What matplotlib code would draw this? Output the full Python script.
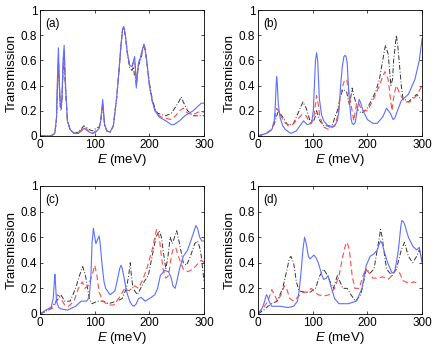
import numpy as np
import matplotlib.pyplot as plt

plt.rcParams['font.family'] = ['Liberation Sans', 'DejaVu Sans']
plt.rcParams['mathtext.fontset'] = 'custom'
plt.rcParams['mathtext.it'] = 'Liberation Sans:italic'
plt.rcParams['mathtext.rm'] = 'Liberation Sans'

# panel (a)
a_blue_x = [0, 20, 27, 30, 32, 33.5, 35, 37, 38.5, 40, 42, 44, 46, 50, 55, 62, 70, 76, 80, 84, 90, 96, 102, 108, 111, 113, 114.6, 116, 118, 122, 128, 134, 140, 144, 148, 151, 153, 156, 160, 164, 168, 171, 173, 175, 176, 178, 180, 184, 188, 190, 192, 195, 200, 205, 210, 218, 230, 240, 245, 255, 265, 280, 295, 300]
a_blue_y = [0, 0, 0.02, 0.15, 0.5, 0.70, 0.45, 0.25, 0.23, 0.3, 0.6, 0.72, 0.45, 0.12, 0.05, 0.02, 0.02, 0.04, 0.06, 0.05, 0.03, 0.02, 0.03, 0.06, 0.12, 0.22, 0.29, 0.2, 0.09, 0.04, 0.03, 0.08, 0.3, 0.5, 0.72, 0.85, 0.87, 0.8, 0.65, 0.56, 0.55, 0.6, 0.63, 0.5, 0.38, 0.48, 0.58, 0.63, 0.7, 0.73, 0.7, 0.6, 0.4, 0.28, 0.2, 0.15, 0.12, 0.09, 0.09, 0.12, 0.16, 0.2, 0.26, 0.26]
a_red_x = [0, 20, 27, 30, 32, 33.5, 35, 37, 38.5, 40, 42, 44, 46, 50, 55, 62, 70, 76, 80, 84, 90, 96, 102, 108, 111, 113, 114.6, 116, 118, 122, 128, 134, 140, 144, 148, 151, 153, 156, 160, 164, 168, 171, 173, 175, 176, 178, 180, 184, 188, 190, 192, 195, 200, 205, 210, 215, 222, 230, 240, 248, 255, 262, 270, 280, 290, 300]
a_red_y = [0, 0, 0.02, 0.14, 0.45, 0.60, 0.42, 0.24, 0.22, 0.3, 0.55, 0.68, 0.42, 0.12, 0.05, 0.02, 0.03, 0.05, 0.07, 0.06, 0.03, 0.02, 0.04, 0.06, 0.12, 0.2, 0.26, 0.18, 0.09, 0.04, 0.03, 0.08, 0.3, 0.5, 0.72, 0.85, 0.86, 0.8, 0.65, 0.56, 0.55, 0.58, 0.6, 0.5, 0.4, 0.48, 0.57, 0.62, 0.7, 0.71, 0.69, 0.6, 0.4, 0.28, 0.21, 0.17, 0.15, 0.14, 0.13, 0.16, 0.2, 0.22, 0.18, 0.17, 0.19, 0.19]
a_black_x = [0, 20, 27, 30, 32, 33.5, 35, 37, 38.5, 40, 42, 44, 46, 50, 55, 62, 70, 76, 80, 84, 90, 96, 102, 108, 111, 113, 114.6, 116, 118, 122, 128, 134, 140, 144, 148, 151, 153, 156, 160, 164, 168, 171, 172.5, 175, 176, 178, 180, 184, 188, 190, 192, 195, 200, 205, 210, 215, 222, 230, 240, 248, 255, 258, 262, 270, 280, 290, 300]
a_black_y = [0, 0, 0.02, 0.13, 0.42, 0.62, 0.4, 0.22, 0.2, 0.28, 0.52, 0.65, 0.4, 0.12, 0.05, 0.02, 0.03, 0.06, 0.08, 0.07, 0.05, 0.04, 0.06, 0.07, 0.12, 0.19, 0.25, 0.17, 0.09, 0.04, 0.03, 0.08, 0.3, 0.5, 0.72, 0.85, 0.86, 0.8, 0.64, 0.54, 0.52, 0.55, 0.48, 0.45, 0.42, 0.5, 0.56, 0.6, 0.69, 0.71, 0.68, 0.6, 0.42, 0.3, 0.22, 0.18, 0.17, 0.16, 0.18, 0.23, 0.28, 0.31, 0.27, 0.2, 0.16, 0.16, 0.16]

# panel (b)
b_blue_x = [0, 15, 25, 29, 31, 33, 34, 35, 37, 40, 45, 50, 60, 70, 78, 83, 90, 98, 101, 103, 105, 107, 109, 112, 116, 120, 130, 140, 145, 148, 151, 154, 157, 159, 161, 163, 165, 167, 170, 172, 175, 178, 181, 185, 188, 192, 200, 210, 218, 228, 235, 242, 247, 250, 255, 262, 275, 287, 295, 300]
b_blue_y = [0, 0.02, 0.05, 0.1, 0.2, 0.4, 0.47, 0.42, 0.25, 0.15, 0.08, 0.05, 0.02, 0.04, 0.09, 0.12, 0.09, 0.1, 0.2, 0.4, 0.6, 0.66, 0.6, 0.3, 0.17, 0.12, 0.07, 0.08, 0.12, 0.2, 0.4, 0.55, 0.63, 0.64, 0.63, 0.58, 0.42, 0.28, 0.14, 0.1, 0.09, 0.11, 0.2, 0.29, 0.26, 0.2, 0.13, 0.1, 0.1, 0.15, 0.22, 0.18, 0.13, 0.14, 0.2, 0.28, 0.33, 0.45, 0.6, 0.77]
b_red_x = [0, 15, 25, 31, 34, 37, 40, 50, 60, 70, 80, 88, 95, 100, 102, 105, 107, 110, 113, 120, 130, 140, 145, 150, 155, 158, 162, 166, 170, 172, 175, 180, 183, 190, 200, 212, 222, 228, 232, 238, 242, 245, 248, 250, 253, 258, 260, 268, 278, 290, 300]
b_red_y = [0, 0.02, 0.05, 0.15, 0.22, 0.2, 0.17, 0.1, 0.08, 0.12, 0.17, 0.16, 0.1, 0.12, 0.15, 0.25, 0.32, 0.25, 0.15, 0.07, 0.05, 0.08, 0.15, 0.3, 0.4, 0.44, 0.45, 0.35, 0.25, 0.2, 0.12, 0.25, 0.27, 0.2, 0.2, 0.3, 0.4, 0.47, 0.51, 0.45, 0.3, 0.2, 0.3, 0.35, 0.4, 0.35, 0.33, 0.27, 0.27, 0.32, 0.4]
b_black_x = [0, 15, 25, 30, 37, 45, 55, 65, 75, 82, 88, 95, 102, 105, 107, 110, 113, 120, 135, 145, 150, 155, 162, 167, 170, 172, 175, 178, 183, 190, 200, 215, 222, 228, 233, 238, 243, 246, 248, 251, 253, 256, 258, 262, 265, 275, 290, 300]
b_black_y = [0, 0.02, 0.05, 0.1, 0.2, 0.15, 0.08, 0.1, 0.2, 0.27, 0.22, 0.12, 0.12, 0.16, 0.2, 0.16, 0.12, 0.08, 0.08, 0.2, 0.3, 0.37, 0.35, 0.25, 0.32, 0.38, 0.32, 0.28, 0.2, 0.18, 0.22, 0.35, 0.45, 0.6, 0.72, 0.65, 0.4, 0.45, 0.6, 0.72, 0.8, 0.7, 0.6, 0.4, 0.3, 0.27, 0.33, 0.28]

# panel (c)
c_blue_x = [0, 10, 20, 24, 26, 27, 28, 30, 34, 38, 50, 65, 75, 85, 90, 93, 95, 97.5, 100, 102, 105, 108, 110, 113, 117, 120, 128, 137, 143, 146, 148, 150, 153, 157, 160, 164, 168, 172, 176, 180, 185, 192, 200, 210, 215, 220, 228, 235, 240, 243, 247, 250, 255, 262, 270, 278, 285, 288, 292, 296, 300]
c_blue_y = [0, 0.03, 0.05, 0.12, 0.25, 0.31, 0.25, 0.1, 0.05, 0.04, 0.03, 0.06, 0.1, 0.1, 0.13, 0.3, 0.55, 0.67, 0.6, 0.55, 0.58, 0.61, 0.55, 0.4, 0.25, 0.2, 0.15, 0.18, 0.3, 0.36, 0.38, 0.36, 0.3, 0.2, 0.15, 0.1, 0.07, 0.06, 0.08, 0.12, 0.13, 0.1, 0.12, 0.15, 0.2, 0.3, 0.34, 0.33, 0.28, 0.22, 0.2, 0.25, 0.35, 0.45, 0.5, 0.6, 0.69, 0.67, 0.6, 0.57, 0.57]
c_red_x = [0, 15, 25, 29, 32, 35, 38, 45, 52, 62, 70, 77, 82, 88, 95, 100, 104, 108, 115, 125, 135, 145, 155, 162, 168, 173, 180, 188, 195, 205, 210, 213, 218, 222, 225, 230, 235, 240, 243, 248, 253, 262, 270, 280, 290, 295, 300]
c_red_y = [0, 0.03, 0.05, 0.1, 0.15, 0.14, 0.12, 0.07, 0.06, 0.1, 0.2, 0.25, 0.2, 0.22, 0.3, 0.38, 0.3, 0.17, 0.1, 0.07, 0.07, 0.13, 0.2, 0.18, 0.2, 0.22, 0.2, 0.27, 0.35, 0.5, 0.6, 0.66, 0.6, 0.45, 0.35, 0.28, 0.3, 0.45, 0.5, 0.52, 0.45, 0.35, 0.33, 0.35, 0.4, 0.42, 0.4]
c_black_x = [0, 15, 20, 30, 35, 38, 45, 55, 65, 72, 78, 83, 90, 95, 105, 115, 125, 140, 150, 158, 162, 165, 167, 170, 178, 190, 198, 205, 212, 218, 222, 225, 230, 234, 238, 242, 246, 250, 255, 262, 268, 275, 283, 288, 292, 295, 300]
c_black_y = [0, 0.03, 0.05, 0.1, 0.13, 0.15, 0.1, 0.1, 0.2, 0.3, 0.37, 0.3, 0.12, 0.08, 0.1, 0.1, 0.08, 0.1, 0.12, 0.2, 0.3, 0.4, 0.3, 0.2, 0.15, 0.25, 0.3, 0.45, 0.6, 0.65, 0.6, 0.5, 0.35, 0.45, 0.6, 0.55, 0.6, 0.65, 0.55, 0.4, 0.38, 0.45, 0.55, 0.57, 0.52, 0.45, 0.25]

# panel (d)
d_blue_x = [0, 8, 12, 15, 17, 20, 25, 40, 55, 65, 72, 75, 78, 82, 85, 88, 92, 95, 102, 106, 110, 117, 120, 125, 128, 133, 140, 148, 165, 180, 190, 198, 205, 212, 218, 222, 224, 227, 230, 237, 245, 250, 255, 258, 261, 263, 266, 268, 275, 283, 290, 295, 300]
d_blue_y = [0, 0.05, 0.1, 0.15, 0.14, 0.1, 0.06, 0.06, 0.05, 0.06, 0.1, 0.18, 0.3, 0.5, 0.6, 0.55, 0.45, 0.43, 0.46, 0.44, 0.4, 0.3, 0.27, 0.28, 0.3, 0.22, 0.12, 0.08, 0.08, 0.1, 0.2, 0.38, 0.45, 0.47, 0.5, 0.55, 0.57, 0.55, 0.5, 0.4, 0.32, 0.33, 0.45, 0.55, 0.68, 0.73, 0.72, 0.7, 0.6, 0.53, 0.5, 0.52, 0.4]
d_red_x = [0, 10, 18, 22, 25, 30, 35, 42, 48, 52, 58, 65, 72, 82, 90, 97, 102, 110, 120, 130, 140, 148, 155, 160, 163, 167, 172, 177, 185, 192, 197, 203, 210, 220, 228, 238, 245, 252, 258, 265, 275, 285, 292]
d_red_y = [0, 0.05, 0.1, 0.15, 0.19, 0.15, 0.1, 0.15, 0.22, 0.2, 0.12, 0.1, 0.13, 0.17, 0.17, 0.2, 0.18, 0.15, 0.14, 0.15, 0.2, 0.3, 0.45, 0.54, 0.56, 0.5, 0.3, 0.2, 0.2, 0.3, 0.35, 0.32, 0.28, 0.28, 0.29, 0.27, 0.3, 0.35, 0.33, 0.26, 0.24, 0.25, 0.24]
d_black_x = [0, 10, 18, 25, 35, 45, 53, 57, 60, 65, 70, 75, 85, 95, 105, 113, 120, 127, 132, 138, 145, 150, 155, 163, 170, 178, 188, 198, 205, 212, 218, 222, 224, 227, 230, 235, 245, 253, 262, 268, 275, 283, 290, 295, 300]
d_black_y = [0, 0.03, 0.06, 0.08, 0.1, 0.2, 0.35, 0.43, 0.45, 0.4, 0.25, 0.18, 0.17, 0.17, 0.2, 0.3, 0.35, 0.3, 0.25, 0.2, 0.3, 0.25, 0.2, 0.2, 0.15, 0.1, 0.15, 0.35, 0.32, 0.35, 0.5, 0.6, 0.66, 0.6, 0.5, 0.35, 0.3, 0.35, 0.5, 0.56, 0.45, 0.4, 0.45, 0.5, 0.42]

panels = [
    ("(a)", a_blue_x, a_blue_y, a_red_x, a_red_y, a_black_x, a_black_y),
    ("(b)", b_blue_x, b_blue_y, b_red_x, b_red_y, b_black_x, b_black_y),
    ("(c)", c_blue_x, c_blue_y, c_red_x, c_red_y, c_black_x, c_black_y),
    ("(d)", d_blue_x, d_blue_y, d_red_x, d_red_y, d_black_x, d_black_y),
]
xticks = [0, 100, 200, 300]
yticks = [0, 0.2, 0.4, 0.6, 0.8, 1]
yticklabels = ["0", "0.2", "0.4", "0.6", "0.8", "1"]

fig = plt.figure(figsize=(4.36, 3.45), dpi=100)
rects = [[0.092, 0.606, 0.376, 0.365], [0.592, 0.606, 0.376, 0.365],
         [0.092, 0.090, 0.376, 0.371], [0.592, 0.090, 0.376, 0.371]]

for rect, (lab, bx, by, rx, ry, kx, ky) in zip(rects, panels):
    ax = fig.add_axes(rect)
    ax.plot(kx, ky, color='#333333', lw=0.7, ls=(0, (5, 2, 1, 2)))
    ax.plot(rx, ry, color='#ff4a4a', lw=0.8, ls=(0, (5, 3)))
    ax.plot(bx, by, color='#5a6fff', lw=0.8)
    ax.set_xlim(0, 300)
    ax.set_ylim(0, 1)
    ax.set_xticks(xticks)
    ax.set_yticks(yticks)
    ax.set_yticklabels(yticklabels)
    ax.tick_params(direction='in', top=True, right=True, length=2.5, width=0.5, labelsize=8.5, pad=2)
    for s in ax.spines.values():
        s.set_linewidth(0.6)
    ax.set_ylabel("Transmission", fontsize=9.5, labelpad=2)
    ax.set_xlabel("$E$ (meV)", fontsize=9.5, labelpad=1)
    ax.text(0.03, 0.89, lab, transform=ax.transAxes, fontsize=8.5, va='center', ha='left')

fig.savefig("out.png", dpi=100)
